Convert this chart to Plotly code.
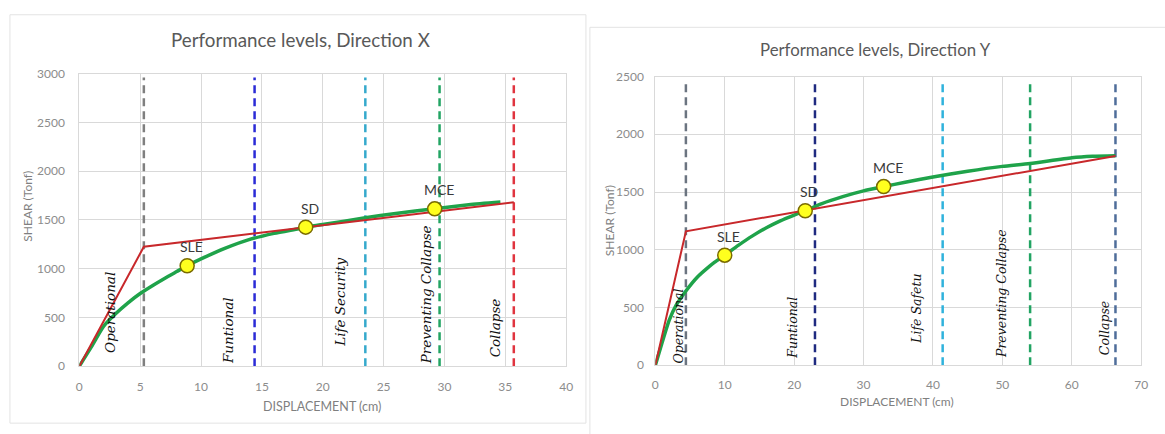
import plotly.graph_objects as go

# ---------------- Direction X ----------------
disp_x = [0, 1, 2, 3, 4, 5, 6, 7, 8, 8.86, 10, 12, 14, 16, 18, 18.6, 20, 23.5, 26, 29.2, 32, 34.6]
shear_x = [0, 200, 410, 540, 650, 745, 825, 900, 970, 1030, 1100, 1210, 1300, 1362, 1410, 1426, 1452, 1522, 1566, 1614, 1655, 1683]
bilinear_disp_x = [0, 5.3, 35.7]
bilinear_shear_x = [0, 1225, 1680]
limits_x = [5.3, 14.4, 23.5, 29.6, 35.7]
limit_names_x = ["Operational", "Funtional", "Life Security", "Preventing Collapse", "Collapse"]
points_names_x = ["SLE", "SD", "MCE"]
points_disp_x = [8.86, 18.6, 29.2]
points_shear_x = [1030, 1426, 1614]

# ---------------- Direction Y ----------------
disp_y = [0, 1, 2, 3, 4.4, 6, 7.4, 8.5, 10, 12, 14, 16, 18, 20, 21.6, 24, 27, 30, 32.9, 36, 40, 45, 50, 54, 60, 63, 66.3]
shear_y = [0, 200, 390, 520, 643, 760, 836, 890, 953, 1040, 1120, 1190, 1250, 1300, 1338, 1400, 1460, 1510, 1547, 1585, 1630, 1680, 1722, 1747, 1797, 1810, 1815]
bilinear_disp_y = [0, 4.4, 66.3]
bilinear_shear_y = [0, 1160, 1812]
limits_y = [4.4, 23.0, 41.4, 54.0, 66.3]
limit_names_y = ["Operational", "Funtional", "Life Safetu", "Preventing Collapse", "Collapse"]
points_names_y = ["SLE", "SD", "MCE"]
points_disp_y = [10.0, 21.6, 32.9]
points_shear_y = [953, 1338, 1547]

# ---------------- styling ----------------
W, H = 1165, 434
FONT = "Lato"
GRID = "#d9d9d9"
TICK_COLOR = "#8c8c8c"
CURVE_GREEN = "#1fa34a"
BILIN_RED = "#c8282b"

limit_colors_x = ["#7f7f7f", "#2b2bd6", "#35a9cc", "#22a463", "#e0343f"]
limit_colors_y = ["#6b7480", "#1f2a80", "#2fb2dc", "#22a463", "#4f6d9a"]
# label placement: horizontal pixel offset from its limit line, vertical centre as fraction of plot height
label_shift_x = [-34, -26, -25, -14, -19]
label_frac_x = [0.185, 0.122, 0.218, 0.244, 0.132]
label_shift_y = [-7, -22, -26, -28, -11]
label_frac_y = [0.137, 0.130, 0.194, 0.247, 0.130]

panels = [
    dict(xa="x", ya="y", disp=disp_x, shear=shear_x, bd=bilinear_disp_x, bs=bilinear_shear_x,
         limits=limits_x, names=limit_names_x, colors=limit_colors_x, ltop=2960,
         pn=points_names_x, pd=points_disp_x, ps=points_shear_x,
         shifts=label_shift_x, fracs=label_frac_x, lsize=13.5),
    dict(xa="x2", ya="y2", disp=disp_y, shear=shear_y, bd=bilinear_disp_y, bs=bilinear_shear_y,
         limits=limits_y, names=limit_names_y, colors=limit_colors_y, ltop=2450,
         pn=points_names_y, pd=points_disp_y, ps=points_shear_y,
         shifts=label_shift_y, fracs=label_frac_y, lsize=12.5),
]

fig = go.Figure()
annotations = []

for p in panels:
    # performance limit lines
    for lim, col in zip(p["limits"], p["colors"]):
        fig.add_trace(go.Scatter(x=[lim, lim], y=[0, p["ltop"]], mode="lines",
                                 line=dict(color=col, width=2.5, dash="8px,5px"),
                                 xaxis=p["xa"], yaxis=p["ya"], hoverinfo="skip", showlegend=False))
    # capacity curve
    fig.add_trace(go.Scatter(x=p["disp"], y=p["shear"], mode="lines",
                             line=dict(color=CURVE_GREEN, width=3.5, shape="spline", smoothing=0.6),
                             xaxis=p["xa"], yaxis=p["ya"], showlegend=False))
    # bilinear idealisation
    fig.add_trace(go.Scatter(x=p["bd"], y=p["bs"], mode="lines",
                             line=dict(color=BILIN_RED, width=2),
                             xaxis=p["xa"], yaxis=p["ya"], showlegend=False))
    # performance points
    fig.add_trace(go.Scatter(x=p["pd"], y=p["ps"], mode="markers",
                             marker=dict(size=14, color="#ffff1e", line=dict(color="#7a6b00", width=1.5)),
                             xaxis=p["xa"], yaxis=p["ya"], showlegend=False))
    for name, xd, yd in zip(p["pn"], p["pd"], p["ps"]):
        annotations.append(dict(x=xd, y=yd, xref=p["xa"], yref=p["ya"], text=name, showarrow=False,
                                xshift=4, yshift=19, xanchor="center", yanchor="middle",
                                font=dict(family=FONT, size=14, color="#3a3a3a")))
    # limit names
    yref_dom = ("y" if p["ya"] == "y" else "y2") + " domain"
    for name, lim, sh, fr in zip(p["names"], p["limits"], p["shifts"], p["fracs"]):
        annotations.append(dict(x=lim, y=fr, xref=p["xa"], yref=yref_dom, text="<i>%s</i>" % name,
                                textangle=-90, showarrow=False, xshift=sh, xanchor="center", yanchor="middle",
                                font=dict(family="DejaVu Serif", size=p["lsize"], color="#111111")))


def paper_text(px, py, text, size, color="#7f7f7f", angle=0):
    return dict(x=px / W, y=1 - py / H, xref="paper", yref="paper", text=text, textangle=angle,
                showarrow=False, xanchor="center", yanchor="middle",
                font=dict(family=FONT, size=size, color=color))


# titles and axis titles
annotations += [
    paper_text(300, 33, "Performance levels, Direction X", 18.8, "#595959"),
    paper_text(880, 43, "Performance levels, Direction Y", 16.8, "#595959"),
    paper_text(322, 413, "DISPLACEMENT (cm)", 12.5),
    paper_text(902, 408, "DISPLACEMENT (cm)", 12),
    paper_text(25, 205, "SHEAR (Tonf)", 12, angle=-90),
    paper_text(612, 220, "SHEAR (Tonf)", 12, angle=-90),
]

axis_common = dict(showgrid=True, gridcolor=GRID, gridwidth=1, showline=True, linecolor=GRID,
                   mirror=True, zeroline=False, ticks="", tickfont=dict(family=FONT, size=12, color=TICK_COLOR))

fig.update_layout(
    width=W, height=H,
    margin=dict(l=0, r=0, t=0, b=0),
    paper_bgcolor="white", plot_bgcolor="white",
    showlegend=False,
    xaxis=dict(domain=[77 / W, 568 / W], range=[0, 40], dtick=5, anchor="y", ticklabelstandoff=9, **axis_common),
    yaxis=dict(domain=[(H - 371) / H, (H - 68) / H], range=[0, 3000], dtick=500, anchor="x",
               ticklabelstandoff=11, **axis_common),
    xaxis2=dict(domain=[658 / W, 1148 / W], range=[0, 70], dtick=10, anchor="y2", ticklabelstandoff=8, **axis_common),
    yaxis2=dict(domain=[(H - 370) / H, (H - 71) / H], range=[0, 2500], dtick=500, anchor="x2",
                ticklabelstandoff=8, **axis_common),
    annotations=annotations,
    shapes=[
        dict(type="rect", xref="paper", yref="paper", x0=7 / W, x1=588 / W, y0=1 - 430 / H, y1=1 - 7 / H,
             line=dict(color="#e3e3e3", width=1)),
        dict(type="rect", xref="paper", yref="paper", x0=592 / W, x1=1.2, y0=-0.2, y1=1 - 20 / H,
             line=dict(color="#e3e3e3", width=1)),
    ],
)

fig.write_html("out.html")
